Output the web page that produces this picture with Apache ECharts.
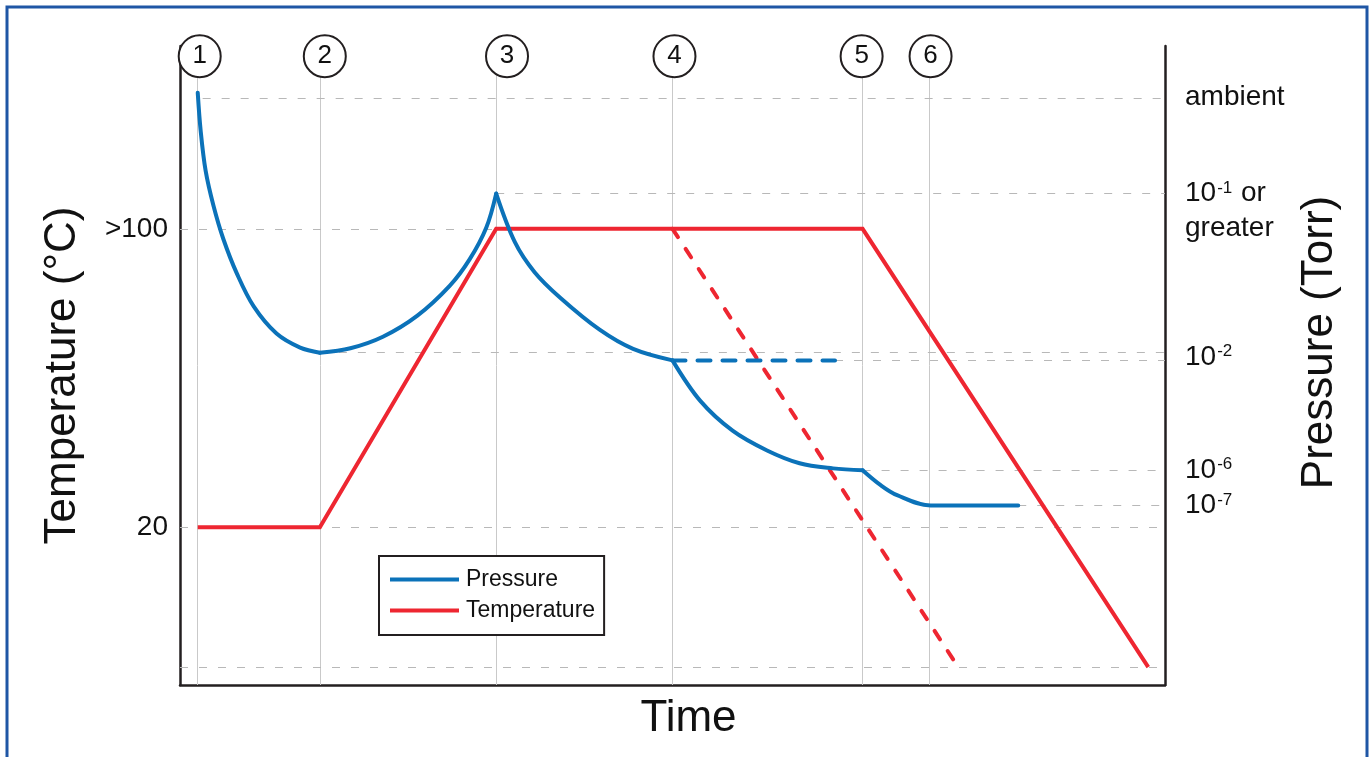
<!DOCTYPE html>
<html>
<head>
<meta charset="utf-8">
<title>Bake-out: pressure and temperature over time</title>
<script src="https://cdn.jsdelivr.net/npm/echarts@6/dist/echarts.min.js"></script>
<style>
html,body{margin:0;padding:0;background:#fff;}
#chart{width:1370px;height:757px;}
</style>
</head>
<body>
<div id="chart"></div>
<script>
// time runs on an arbitrary 0..100 scale, pressure on a 0..100 "level" scale (not a true log axis)
const stageTimes = [1.8, 14.2, 32.1, 50.0, 69.3, 76.1]
const stageMarkerTimes = [2.0, 14.7, 33.2, 50.2, 69.2, 76.2]
const stageLabels = ['1', '2', '3', '4', '5', '6']
const markerLevel = 98.4

// temperature (°C)
const tempTickValues = [20, 100]
const tempTickLabels = ['20', '>100']
const tempTime = [1.8, 14.2, 32.1, 69.3, 98.3]
const tempValue = [20, 20, 100, 100, -17.5]
const tempEarlyTime = [50.0, 79.0]
const tempEarlyValue = [100, -17.5]

// pressure levels
const pressureTickValues = [91.9, 76.9, 71.4, 51.3, 33.6, 28.1]
const pressureTickLabels = ['ambient', '{n|10}{s|-1}{n| or}', 'greater', '{n|10}{s|-2}', '{n|10}{s|-6}', '{n|10}{s|-7}']

const pumpDown = [[1.8, 92.7], [2.1, 86.7], [2.6, 80.5], [3.4, 75.0], [4.4, 69.8], [5.8, 64.3], [7.5, 59.2], [9.8, 55.0], [12.2, 52.8], [14.2, 52.0]]
const heatUp = [[14.2, 52.0], [17.3, 52.7], [20.6, 54.5], [24.1, 57.8], [27.4, 62.5], [29.4, 66.6], [31.1, 71.6], [32.1, 76.9]]
const bake = [[32.1, 76.9], [34.0, 69.3], [36.0, 64.6], [38.6, 60.6], [42.6, 55.6], [46.0, 52.6], [50.0, 50.8]]
const coolDown = [[50.0, 50.8], [52.8, 44.5], [56.1, 39.8], [59.6, 36.7], [62.9, 34.7], [66.3, 33.9], [69.3, 33.6]]
const finalPump = [[69.3, 33.6], [71.1, 31.3], [72.8, 29.7], [76.2, 28.1], [85.1, 28.1]]
const pressureHold = [[50.0, 50.8], [66.5, 50.8]]

// dashed reference lines: [start time, level]
const pressureRefLines = [[2.3, 91.9], [32.1, 76.9], [14.2, 52.0], [66.5, 50.8], [69.3, 33.6], [85.1, 28.1]]
const tempRefLines = [[0, 32.1, 100], [0, 100, 20], [0, 100, -17.5]]

const BLUE = '#0b72b9'
const RED = '#ee2631'
const INK = '#231f20'
const FONT = '"Liberation Sans", Arial, Helvetica, sans-serif'

let chart = echarts.init(document.getElementById('chart'))

function curve(data) {
  return {
    name: 'Pressure',
    type: 'line',
    yAxisIndex: 1,
    data: data,
    smooth: 0.35,
    showSymbol: false,
    symbol: 'none',
    z: 5,
    color: BLUE,
    lineStyle: { color: BLUE, width: 4, cap: 'round' }
  }
}

const option = {
  animation: false,
  textStyle: { fontFamily: FONT },
  grid: { left: 180, right: 205, top: 46, bottom: 72 },
  legend: {
    data: [{ name: 'Pressure', icon: 'rect' }, { name: 'Temperature', icon: 'rect' }],
    orient: 'vertical',
    left: 379,
    top: 556,
    padding: [12, 9, 13, 11],
    itemGap: 8,
    itemWidth: 69,
    itemHeight: 4,
    selectedMode: false,
    borderColor: INK,
    borderWidth: 2,
    borderRadius: 0,
    backgroundColor: '#fff',
    textStyle: { fontSize: 23, color: '#111', fontFamily: FONT, padding: [0, 0, 0, 2] }
  },
  xAxis: {
    type: 'value',
    min: 0,
    max: 100,
    name: 'Time',
    nameLocation: 'middle',
    nameGap: 12,
    nameMoveOverlap: false,
    nameTextStyle: { fontSize: 44, color: '#111', padding: [0, 0, 0, 32] },
    axisLine: { show: true, onZero: false, lineStyle: { color: INK, width: 2.5 } },
    axisTick: { show: false },
    axisLabel: { show: false },
    splitLine: { show: false }
  },
  yAxis: [
    {
      type: 'value',
      position: 'left',
      min: -22.3,
      max: 149,
      name: 'Temperature (°C)',
      nameLocation: 'middle',
      nameRotate: 90,
      nameGap: 95,
      nameMoveOverlap: false,
      nameTextStyle: { fontSize: 44, color: '#111', padding: [0, 20, 0, 0] },
      axisLine: { show: true, onZero: false, lineStyle: { color: INK, width: 2.5 } },
      axisTick: { show: false },
      splitLine: { show: false },
      axisLabel: {
        customValues: tempTickValues,
        margin: 12,
        fontSize: 28,
        color: '#111',
        formatter: (v) => {
          const i = tempTickValues.findIndex(t => Math.abs(t - v) < 0.01)
          return i < 0 ? '' : tempTickLabels[i]
        }
      }
    },
    {
      type: 'value',
      position: 'right',
      min: 0,
      max: 100,
      name: 'Pressure (Torr)',
      nameLocation: 'middle',
      nameRotate: 90,
      nameGap: 133,
      nameMoveOverlap: false,
      nameTextStyle: { fontSize: 44, color: '#111', padding: [0, 0, 0, 46] },
      axisLine: { show: true, onZero: false, lineStyle: { color: INK, width: 2.5 } },
      axisTick: { show: false },
      splitLine: { show: false },
      axisLabel: {
        customValues: pressureTickValues,
        margin: 20,
        fontSize: 28,
        color: '#111',
        formatter: (v) => {
          const i = pressureTickValues.findIndex(t => Math.abs(t - v) < 0.01)
          return i < 0 ? '' : pressureTickLabels[i]
        },
        rich: {
          n: { fontSize: 28, color: '#111', fontFamily: FONT },
          s: { fontSize: 17, color: '#111', fontFamily: FONT, verticalAlign: 'top', padding: [0, 1, 0, 1] }
        }
      }
    }
  ],
  series: [
    // grid-like reference lines
    {
      type: 'line',
      yAxisIndex: 1,
      data: [],
      z: 1,
      markLine: {
        silent: true,
        z: 1,
        symbol: 'none',
        label: { show: false },
        data: stageTimes.map(t => ({ xAxis: t, lineStyle: { color: '#c9c9c9', width: 1, type: 'solid' } }))
          .concat(pressureRefLines.map(p => [
            { coord: [p[0], p[1]], lineStyle: { color: '#b8b8b8', width: 1, type: [8, 11] } },
            { coord: [100, p[1]] }
          ]))
      }
    },
    {
      type: 'line',
      yAxisIndex: 0,
      data: [],
      z: 1,
      markLine: {
        silent: true,
        z: 1,
        symbol: 'none',
        label: { show: false },
        data: tempRefLines.map(p => [
          { coord: [p[0], p[2]], lineStyle: { color: '#b8b8b8', width: 1, type: [8, 11] } },
          { coord: [p[1], p[2]] }
        ])
      }
    },
    // temperature
    {
      name: 'Temperature',
      type: 'line',
      yAxisIndex: 0,
      data: tempTime.map((t, i) => [t, tempValue[i]]),
      showSymbol: false,
      symbol: 'none',
      z: 4,
      color: RED,
      lineStyle: { color: RED, width: 4, join: 'miter' }
    },
    {
      name: 'Temperature',
      type: 'line',
      yAxisIndex: 0,
      data: tempEarlyTime.map((t, i) => [t, tempEarlyValue[i]]),
      showSymbol: false,
      symbol: 'none',
      z: 4,
      color: RED,
      lineStyle: { color: RED, width: 4, type: [10, 14], cap: 'round' }
    },
    // pressure
    curve(pumpDown),
    curve(heatUp),
    curve(bake),
    curve(coolDown),
    curve(finalPump),
    {
      name: 'Pressure',
      type: 'line',
      yAxisIndex: 1,
      data: pressureHold,
      showSymbol: false,
      symbol: 'none',
      z: 5,
      color: BLUE,
      lineStyle: { color: BLUE, width: 4, type: [13, 12], cap: 'round' }
    },
    // stage markers
    {
      type: 'scatter',
      yAxisIndex: 1,
      clip: false,
      silent: true,
      z: 6,
      symbol: 'circle',
      symbolSize: 42,
      data: stageMarkerTimes.map(t => [t, markerLevel]),
      itemStyle: { color: '#fff', borderColor: INK, borderWidth: 2, opacity: 1 },
      label: {
        show: true,
        position: 'inside',
        fontSize: 26,
        color: '#111',
        fontFamily: FONT,
        formatter: (p) => stageLabels[p.dataIndex]
      }
    }
  ],
  graphic: [
    {
      type: 'rect',
      silent: true,
      z: 100,
      shape: { x: 7, y: 7, width: 1360, height: 800 },
      style: { fill: 'none', stroke: '#1f56a5', lineWidth: 3 }
    }
  ]
}

chart.setOption(option)
</script>
</body>
</html>
